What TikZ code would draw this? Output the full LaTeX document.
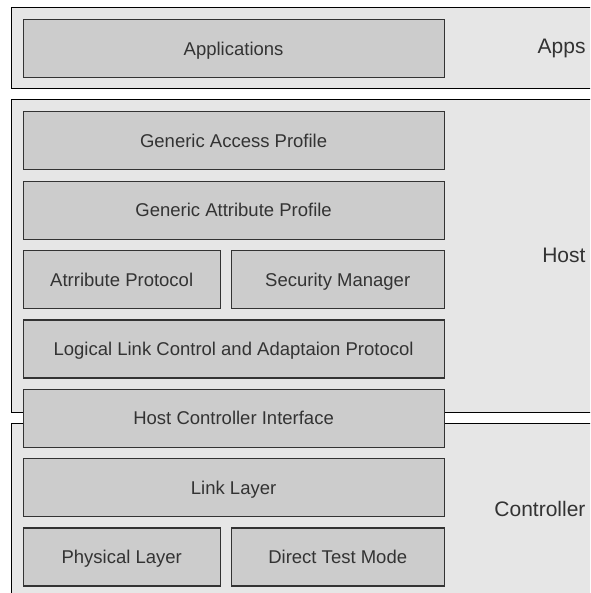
\documentclass[tikz,border=0pt]{standalone}
\usepackage{fontspec}
\setmainfont{Liberation Sans}
\definecolor{outerfill}{HTML}{E6E6E6}
\definecolor{boxfill}{HTML}{CCCCCC}
\definecolor{boxline}{HTML}{333333}
\definecolor{textcol}{HTML}{333333}
\begin{document}
\begin{tikzpicture}[x=1pt,y=-1pt,
  outerbox/.style={draw=black, fill=outerfill, line width=1pt},
  layer/.style={draw=boxline, fill=boxfill, line width=1.2pt, minimum height=58pt,
    text=textcol, font=\fontsize{18.5}{22}\selectfont, inner sep=0pt,
    text height=13.2pt, text depth=0pt, anchor=north west},
  wide/.style={layer, minimum width=421pt},
  lefthalf/.style={layer, minimum width=197.2pt},
  righthalf/.style={layer, minimum width=212.8pt},
  grouplabel/.style={text=textcol, font=\fontsize{21}{25}\selectfont, inner sep=0pt, anchor=base east}
]
\fill[white] (0,0) rectangle (590,593);
\useasboundingbox (0,0) rectangle (590,593);
\begin{scope}
\clip (0,0) rectangle (590,593);
% group frames
\draw[outerbox] (11,7.5) rectangle (600,88.5);
\draw[outerbox] (11,99.5) rectangle (600,412.5);
\draw[outerbox] (11,423.5) rectangle (600,620);
% layers
\node[wide] (appl) at (22.5,19.3) {Applications};
\node[wide] (gap) at (22.5,111.3) {Generic Access Profile};
\node[wide] (gatt) at (22.5,180.6) {Generic Attribute Profile};
\node[lefthalf] (att) at (22.5,250) {Atrribute Protocol};
\node[righthalf] (sm) at (230.7,250) {Security Manager};
\node[wide] (l2cap) at (22.5,319.3) {Logical Link Control and Adaptaion Protocol};
\node[wide] (hci) at (22.5,388.6) {Host Controller Interface};
\node[wide] (ll) at (22.5,458) {Link Layer};
\node[lefthalf] (phy) at (22.5,527.3) {Physical Layer};
\node[righthalf] (dtm) at (230.7,527.3) {Direct Test Mode};
% group labels
\node[grouplabel] (appslbl) at (585.7,53.3) {Apps};
\node[grouplabel] (hostlbl) at (585.7,262.3) {Host};
\node[grouplabel] (ctrllbl) at (585.7,516.7) {Controller};
\end{scope}
\end{tikzpicture}
\end{document}
